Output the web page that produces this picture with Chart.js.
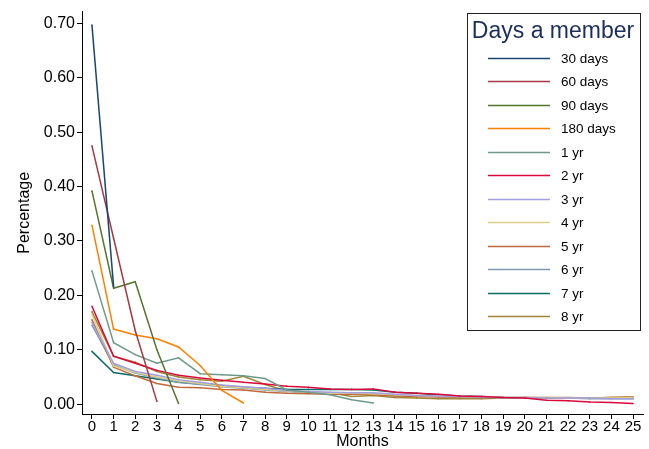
<!DOCTYPE html>
<html>
<head>
<meta charset="utf-8">
<script src="https://cdn.jsdelivr.net/npm/chart.js@4/dist/chart.umd.min.js"></script>
<style>
  html, body { margin: 0; padding: 0; background: #fff; }
  #wrap { width: 649px; height: 449px; }
</style>
</head>
<body>
<div id="wrap"><canvas id="myChart" width="649" height="449"></canvas></div>
<script>
// months on the x axis
const months = [0,1,2,3,4,5,6,7,8,9,10,11,12,13,14,15,16,17,18,19,20,21,22,23,24,25];
const yTicks = [0, 0.1, 0.2, 0.3, 0.4, 0.5, 0.6, 0.7];

// share still active, by month, for each membership length
const days30 = [0.697, 0.216];
const days60 = [0.475, 0.305, 0.135, 0.005];
const days90 = [0.392, 0.213, 0.225, 0.100, 0.001];
const days180 = [0.329, 0.138, 0.127, 0.120, 0.105, 0.071, 0.025, 0.002];
const yr1 = [0.245, 0.113, 0.091, 0.075, 0.085, 0.056, 0.054, 0.052, 0.047, 0.026, 0.022, 0.017, 0.008, 0.002];
const yr2 = [0.180, 0.088, 0.075, 0.062, 0.053, 0.048, 0.044, 0.040, 0.037, 0.033, 0.031, 0.028, 0.027, 0.028, 0.022, 0.020, 0.018, 0.015, 0.014, 0.012, 0.011, 0.007, 0.006, 0.004, 0.003, 0.001];
const yr3 = [0.150, 0.075, 0.060, 0.053, 0.045, 0.040, 0.035, 0.032, 0.029, 0.025, 0.023, 0.022, 0.021, 0.021, 0.018, 0.016, 0.015, 0.014, 0.013, 0.012, 0.012, 0.011, 0.011, 0.011, 0.010, 0.010];
const yr4 = [0.165, 0.070, 0.058, 0.050, 0.043, 0.038, 0.033, 0.030, 0.027, 0.024, 0.022, 0.020, 0.020, 0.019, 0.017, 0.016, 0.015, 0.014, 0.013, 0.012, 0.012, 0.012, 0.011, 0.011, 0.011, 0.012];
const yr5 = [0.155, 0.068, 0.052, 0.038, 0.031, 0.030, 0.027, 0.026, 0.022, 0.020, 0.019, 0.018, 0.018, 0.017, 0.015, 0.014, 0.013, 0.013, 0.012, 0.012, 0.012, 0.011, 0.011, 0.011, 0.012, 0.013];
const yr6 = [0.145, 0.072, 0.057, 0.048, 0.040, 0.036, 0.032, 0.029, 0.026, 0.023, 0.021, 0.020, 0.019, 0.018, 0.016, 0.015, 0.014, 0.013, 0.012, 0.012, 0.011, 0.011, 0.011, 0.010, 0.010, 0.010];
const yr7 = [0.097, 0.058, 0.052, 0.046, 0.040, 0.037, 0.034, 0.031, 0.029, 0.027, 0.027, 0.027, 0.027, 0.026, 0.022, 0.020, 0.017, 0.015, 0.014, 0.012, 0.011, 0.011, 0.011, 0.011, 0.011, 0.011];
const yr8 = [0.170, 0.088, 0.077, 0.060, 0.050, 0.045, 0.042, 0.051, 0.036, 0.024, 0.022, 0.021, 0.014, 0.016, 0.012, 0.011, 0.010, 0.010, 0.010, 0.011, 0.012, 0.012, 0.012, 0.011, 0.012, 0.013];

const seriesNames = ["30 days", "60 days", "90 days", "180 days", "1 yr", "2 yr", "3 yr", "4 yr", "5 yr", "6 yr", "7 yr", "8 yr"];
const seriesData = [days30, days60, days90, days180, yr1, yr2, yr3, yr4, yr5, yr6, yr7, yr8];
const seriesColors = ["#1a476f", "#a33a45", "#55752f", "#ff8000", "#6e9a8c", "#dc0a3c",
                      "#a39fe0", "#dccf86", "#c06a3c", "#7e9ab2", "#0a6e68", "#a08536"];

const FONT = "'Liberation Sans', Arial, Helvetica, sans-serif";

// legend box drawn on top of the plot, Stata style
const boxLegend = {
  id: "boxLegend",
  afterDraw(chart) {
    const ctx = chart.ctx;
    ctx.save();
    ctx.fillStyle = "#fff";
    ctx.fillRect(467, 13, 174, 318);
    ctx.strokeStyle = "#222";
    ctx.lineWidth = 1;
    ctx.strokeRect(467.5, 13.5, 173, 317);

    ctx.fillStyle = "#1a2f5c";
    ctx.font = "23px " + FONT;
    ctx.textAlign = "center";
    ctx.textBaseline = "middle";
    ctx.fillText("Days a member", 553, 32);

    ctx.font = "13.5px " + FONT;
    ctx.textAlign = "left";
    chart.data.datasets.forEach((ds, i) => {
      const y = Math.round(58 + i * 23.45) + 0.5;
      ctx.strokeStyle = ds.borderColor;
      ctx.lineWidth = 1.6;
      ctx.beginPath();
      ctx.moveTo(488, y);
      ctx.lineTo(550, y);
      ctx.stroke();
      ctx.fillStyle = "#000";
      ctx.fillText(ds.label, 561, y + 0.5);
    });
    ctx.restore();
  }
};

const ctx = document.getElementById("myChart").getContext("2d");
new Chart(ctx, {
  type: "line",
  data: {
    datasets: seriesData.map((vals, i) => ({
      label: seriesNames[i],
      data: vals.map((v, j) => ({ x: months[j], y: v })),
      borderColor: seriesColors[i],
      backgroundColor: seriesColors[i],
      borderWidth: 1.5,
      pointRadius: 0.8,
      pointBorderWidth: 0,
      tension: 0,
      fill: false,
    })),
  },
  options: {
    responsive: false,
    animation: false,
    devicePixelRatio: 1,
    layout: { padding: { top: 7, right: 6, left: 0, bottom: 0 } },
    plugins: {
      legend: { display: false },
      tooltip: { enabled: false },
    },
    scales: {
      x: {
        type: "linear",
        min: -0.46,
        max: 25.46,
        afterBuildTicks: (scale) => { scale.ticks = months.map((m) => ({ value: m })); },
        afterFit: (scale) => { scale.height = 35; },
        ticks: {
          color: "#000",
          font: { family: FONT, size: 15 },
          padding: -1,
          maxRotation: 0,
          autoSkip: false,
        },
        grid: { drawOnChartArea: false, tickLength: 5, color: "#000" },
        border: { display: true, color: "#000", width: 1 },
        title: {
          display: true,
          text: "Months",
          color: "#000",
          font: { family: FONT, size: 16, lineHeight: 1 },
          padding: { top: 0, bottom: -1 },
        },
      },
      y: {
        type: "linear",
        min: -0.0182,
        max: 0.7218,
        afterBuildTicks: (scale) => { scale.ticks = yTicks.map((v) => ({ value: v })); },
        afterFit: (scale) => { scale.width = 82; },
        ticks: {
          color: "#000",
          font: { family: FONT, size: 16 },
          padding: 2,
          callback: (v) => v.toFixed(2),
        },
        grid: { drawOnChartArea: false, tickLength: 5, color: "#000" },
        border: { display: true, color: "#000", width: 1 },
        title: {
          display: true,
          text: "Percentage",
          color: "#000",
          font: { family: FONT, size: 16 },
          padding: { top: 15, bottom: 0 },
        },
      },
    },
  },
  plugins: [boxLegend],
});
</script>
</body>
</html>
